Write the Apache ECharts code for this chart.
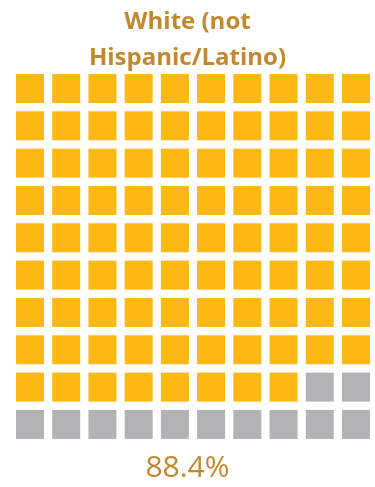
<!DOCTYPE html>
<html>
<head>
<meta charset="utf-8">
<script src="https://cdn.jsdelivr.net/npm/echarts@6/dist/echarts.min.js"></script>
<style>
  html, body { margin: 0; padding: 0; background: #fff; }
  #chart { width: 375px; height: 487px; }
</style>
</head>
<body>
<div id="chart"></div>
<script>
// Waffle chart: share of population, one square per percent
const groupLabel = 'White (not\nHispanic/Latino)';
const sharePercent = 88.4;
const columns = ['1', '2', '3', '4', '5', '6', '7', '8', '9', '10'];
const rows = ['1', '2', '3', '4', '5', '6', '7', '8', '9', '10'];

const FILL = '#FDB813';
const EMPTY = '#B2B3B5';
const TEXT = '#C0892F';

// Whole squares filled, counted row by row from the top-left
const filledCount = Math.floor(sharePercent);
const cells = [];
rows.forEach((r, ri) => {
  columns.forEach((c, ci) => {
    const idx = ri * columns.length + ci;
    cells.push([c, r, idx < filledCount ? 1 : 0]);
  });
});

const chart = echarts.init(document.getElementById('chart'));
chart.setOption({
  animation: false,
  title: [{
    text: groupLabel,
    left: 'center',
    top: -1,
    textStyle: {
      fontFamily: 'Open Sans',
      fontWeight: 'bold',
      fontSize: 24,
      lineHeight: 36,
      color: TEXT
    }
  }, {
    text: sharePercent.toFixed(1) + '%',
    left: 'center',
    top: 448,
    textStyle: {
      fontFamily: 'Open Sans',
      fontWeight: 'normal',
      fontSize: 30,
      color: TEXT
    }
  }],
  grid: { left: 11.9, right: 0.9, top: 69.8, bottom: 43.9 },
  xAxis: { type: 'category', data: columns, show: false },
  yAxis: { type: 'category', data: rows, inverse: true, show: false },
  series: [{
    type: 'custom',
    data: cells,
    renderItem: function (params, api) {
      const center = api.coord([api.value(0), api.value(1)]);
      const w = 28, h = 29;
      return {
        type: 'rect',
        shape: { x: center[0] - w / 2, y: center[1] - h / 2, width: w, height: h },
        style: { fill: api.value(2) ? FILL : EMPTY }
      };
    }
  }]
});
</script>
</body>
</html>
